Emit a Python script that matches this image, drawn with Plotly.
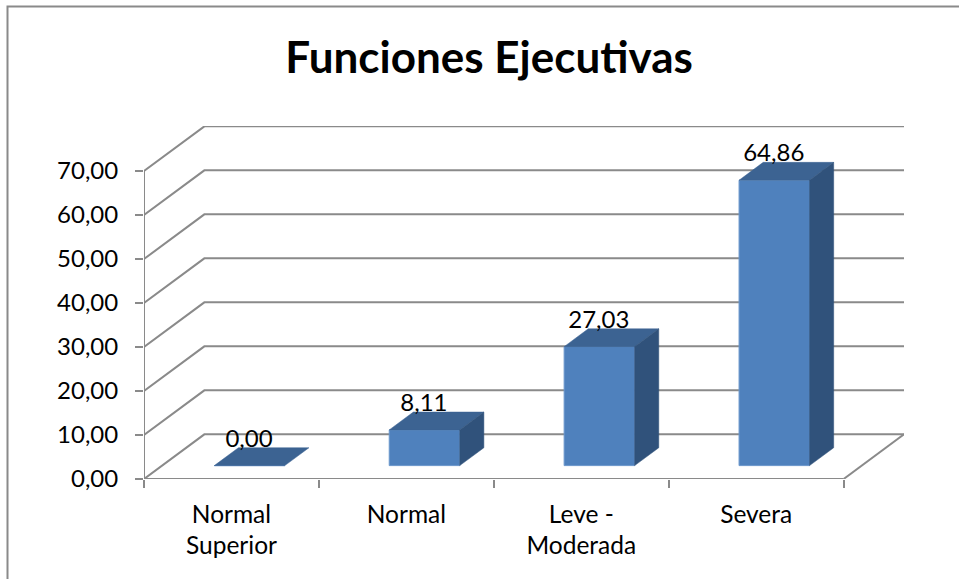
import plotly.graph_objects as go

CATEGORIAS = ["Normal<br>Superior", "Normal", "Leve -<br>Moderada", "Severa"]
VALORES = [0.00, 8.11, 27.03, 64.86]
ETIQUETAS = ["0,00", "8,11", "27,03", "64,86"]
TICKS_Y = [0, 10, 20, 30, 40, 50, 60, 70]
TICKS_Y_TEXTO = ["0,00", "10,00", "20,00", "30,00", "40,00", "50,00", "60,00", "70,00"]

# Profundidad de la "caja" 3D, en unidades de cada eje.
PROF_X = 0.345
PROF_Y = 10.15
ANCHO_BARRA = 0.403

GRIS = "#8a8a8a"
FUENTE = "Lato"

ANCHO, ALTO = 959, 579
M_IZQ, M_DER, M_SUP, M_INF = 144, 55, 126, 100


def main():

    pos = list(range(len(VALORES)))
    x_ini = -0.5
    x_fin = len(VALORES) - 0.5

    # Las barras ocupan el 40% central de la profundidad.
    off_x = 0.3 * PROF_X
    off_y = 0.3 * PROF_Y
    esp_x = 0.4 * PROF_X
    esp_y = 0.4 * PROF_Y

    fig = go.Figure()

    # Cara frontal.
    fig.add_trace(
        go.Bar(
            x=[p + off_x for p in pos],
            y=VALORES,
            base=off_y,
            width=ANCHO_BARRA,
            marker_color="#4f81bd",
            marker_line_color="#6a97cc",
            marker_line_width=1,
            hoverinfo="skip",
        )
    )

    # Caras superior y lateral.
    for p, v in zip(pos, VALORES):
        izq = p + off_x - ANCHO_BARRA / 2
        der = p + off_x + ANCHO_BARRA / 2
        arriba = v + off_y

        fig.add_trace(
            go.Scatter(
                x=[izq, der, der + esp_x, izq + esp_x, izq],
                y=[arriba, arriba, arriba + esp_y, arriba + esp_y, arriba],
                mode="lines",
                fill="toself",
                fillcolor="#3c6392",
                line_color="#3c6392",
                line_width=0.5,
                hoverinfo="skip",
            )
        )

        if v > 0:
            fig.add_trace(
                go.Scatter(
                    x=[der, der + esp_x, der + esp_x, der, der],
                    y=[off_y, off_y + esp_y, arriba + esp_y, arriba, off_y],
                    mode="lines",
                    fill="toself",
                    fillcolor="#30527b",
                    line_color="#30527b",
                    line_width=0.5,
                    hoverinfo="skip",
                )
            )

    # Etiquetas de datos.
    fig.add_trace(
        go.Scatter(
            x=[p + off_x - 0.003 for p in pos],
            y=[v + off_y + 5.7 for v in VALORES],
            mode="text",
            text=ETIQUETAS,
            textposition="middle center",
            textfont=dict(family=FUENTE, size=24, color="#000000"),
            hoverinfo="skip",
        )
    )

    # Rejilla de las paredes, detrás de las barras.
    formas = []
    for t in TICKS_Y:
        formas.append(
            dict(
                type="path",
                xref="x",
                yref="y",
                layer="below",
                path=(
                    f"M {x_ini} {t} L {x_ini + PROF_X} {t + PROF_Y} "
                    f"L {x_fin + PROF_X} {t + PROF_Y}"
                ),
                line=dict(color=GRIS, width=2),
            )
        )

    # Eje vertical, eje horizontal y borde derecho del piso.
    for x0, y0, x1, y1 in [
        (x_ini, 0, x_ini, TICKS_Y[-1]),
        (x_ini, 0, x_fin, 0),
        (x_fin, 0, x_fin + PROF_X, PROF_Y),
    ]:
        formas.append(
            dict(
                type="line",
                xref="x",
                yref="y",
                layer="below",
                x0=x0,
                y0=y0,
                x1=x1,
                y1=y1,
                line=dict(color=GRIS, width=2),
            )
        )

    # Marco del área del gráfico (sólo izquierda y arriba quedan dentro).
    ancho_plot = ANCHO - M_IZQ - M_DER
    alto_plot = ALTO - M_SUP - M_INF
    bx = (7.5 - M_IZQ) / ancho_plot
    by = (ALTO - M_INF - 6.5) / alto_plot
    formas.append(
        dict(
            type="path",
            xref="paper",
            yref="paper",
            path=(
                f"M {bx} {-M_INF / alto_plot} L {bx} {by} "
                f"L {(ANCHO - M_IZQ) / ancho_plot} {by}"
            ),
            line=dict(color=GRIS, width=2),
        )
    )

    fig.update_xaxes(
        range=[x_ini, x_fin + PROF_X],
        tickmode="array",
        tickvals=pos,
        ticktext=CATEGORIAS,
        ticks="",
        ticklabelstandoff=18,
        showgrid=False,
        zeroline=False,
        showline=False,
        tickfont=dict(family=FUENTE, size=24.5, color="#000000"),
        minor=dict(
            tick0=x_ini,
            dtick=1,
            ticks="outside",
            ticklen=8,
            tickwidth=2,
            tickcolor=GRIS,
            showgrid=False,
        ),
    )

    fig.update_yaxes(
        range=[0, 80.23],
        tickmode="array",
        tickvals=TICKS_Y,
        ticktext=TICKS_Y_TEXTO,
        ticks="outside",
        ticklen=8,
        tickwidth=2,
        tickcolor=GRIS,
        ticklabelstandoff=12,
        showgrid=False,
        zeroline=False,
        showline=False,
        tickfont=dict(family=FUENTE, size=24, color="#000000"),
    )

    fig.update_layout(
        width=ANCHO,
        height=ALTO,
        showlegend=False,
        plot_bgcolor="#FFFFFF",
        paper_bgcolor="#FFFFFF",
        margin=dict(l=M_IZQ, r=M_DER, t=M_SUP, b=M_INF, autoexpand=False),
        shapes=formas,
        title=dict(
            text="<b>Funciones Ejecutivas</b>",
            x=0.51,
            xanchor="center",
            y=0.9,
            yanchor="middle",
            font=dict(family=FUENTE, size=44, color="#000000"),
        ),
    )

    fig.write_html(
        "out.html",
        config={"displayModeBar": False},
        post_script="document.body.style.margin='0';document.body.style.overflow='hidden';",
    )


if __name__ == "__main__":

    main()
